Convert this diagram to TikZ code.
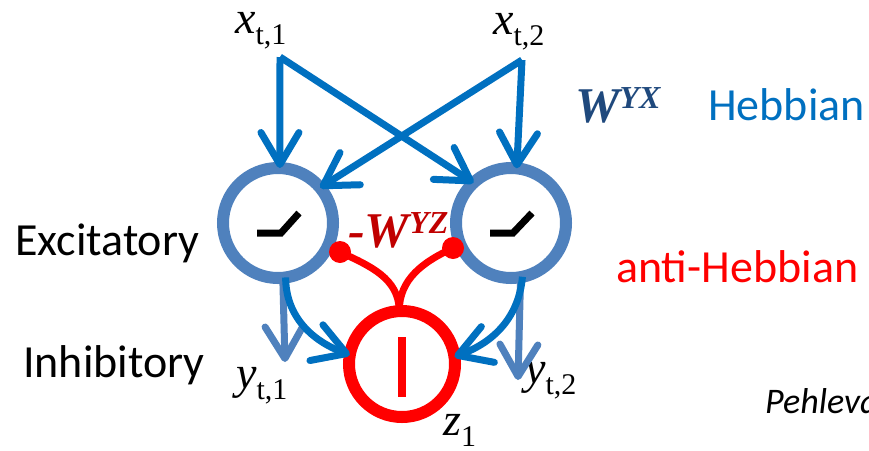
\documentclass[tikz,border=0pt]{standalone}
\usepackage{fontspec}
\setmainfont{Carlito}
\newfontfamily\tms{Liberation Serif}
\usetikzlibrary{arrows.meta}
\definecolor{ringblue}{RGB}{79,129,189}
\definecolor{arrblue}{RGB}{0,112,192}
\definecolor{wred}{RGB}{192,0,0}
\definecolor{wblue}{RGB}{31,73,125}
\newcommand\ivar[2]{{\tms\fontsize{46}{46}\selectfont\textit{#1}\raisebox{-11pt}{\fontsize{30}{30}\selectfont #2}}}
\newcommand\wlab[2]{{\tms\bfseries\itshape\fontsize{50}{50}\selectfont #1\raisebox{14pt}{\fontsize{32}{32}\selectfont #2}}}
\begin{document}
\begin{tikzpicture}[x=1pt,y=-1pt,
  exc/.style={circle,draw=ringblue,line width=12pt,minimum size=110pt,inner sep=0pt,outer sep=0pt,fill=white},
  inh/.style={circle,draw=red,line width=12pt,minimum size=106pt,inner sep=0pt,outer sep=0pt,fill=white},
  relu/.style={line width=7pt,black},
  barb/.style={-{Straight Barb[length=32pt,width=38pt,round]}},
  inarr/.style={arrblue,line width=7pt,barb},
  outarr/.style={ringblue,line width=7pt,barb},
  inhcon/.style={red,line width=7pt},
  dot/.style={circle,fill=red,minimum size=22pt,inner sep=0pt},
  lbl/.style={inner sep=0pt,anchor=base west},
  txt/.style={inner sep=0pt,anchor=base west,font=\fontsize{46}{46}\selectfont},
  ]
\useasboundingbox (0,0) rectangle (869,450);
\clip (0,0) rectangle (869,450);
\fill[white] (0,0) rectangle (869,450);
% neurons
\node[exc] (e1) at (278,223) {};
\node[exc] (e2) at (511,223) {};
\node[inh] (z) at (402,364) {};
\draw[relu, shift={(e1.center)}] (-21,10) -- (3,10) -- (21,-10);
\draw[relu, shift={(e2.center)}] (-21,10) -- (2,10) -- (21,-10);
\draw[red, line width=8pt, shift={(z.center)}] (0,-27) -- (0,33);
% labels
\node[lbl] (xt1) at (235,33) {\ivar{x}{t,1}};
\node[lbl] (xt2) at (493,34) {\ivar{x}{t,2}};
\node[lbl] (y1) at (236,388) {\ivar{y}{t,1}};
\node[lbl] (y2) at (525,383) {\ivar{y}{t,2}};
\node[lbl] (z1) at (443,435) {\ivar{z}{1}};
\node[lbl,text=wblue] (wyx) at (575,122) {\wlab{W}{YX}};
\node[lbl,text=wred] (wyz) at (348,247) {\wlab{-W}{YZ}};
\node[txt] (exct) at (15,255) {Excitatory};
\node[txt] (inht) at (23,377) {Inhibitory};
\node[txt,text=arrblue] (hebb) at (708,120) {Hebbian};
\node[txt,text=red] (ahebb) at (616,282) {anti-Hebbian};
\node[lbl,font=\fontsize{36}{36}\selectfont\itshape] (ref) at (765,413) {Pehlevan};
% coordinates
\coordinate (s1) at (280,57);
\coordinate (s2) at (522,60);
\coordinate (o1) at (285,362);
\coordinate (o2) at (518,380);
% output arrows
\draw[outarr] (e1.-85) -- (o1);
\draw[outarr] (e2.-80) -- (o2);
% excitatory to inhibitory
\draw[inarr] (e1.-82) to[out=-90,in=160] (z.170);
\draw[inarr] (e2.-78) to[out=-95,in=20] (z.8);
% inputs
\draw[inarr] (s1) -- (e2.133);
\draw[inarr] (s2) -- (e1.40);
\draw[inarr] (s1) -- (e1.88);
\draw[inarr] (s2) -- (e2.84);
% inhibitory feedback
\node[dot] (d1) at (340,252) {};
\node[dot] (d2) at (453,248) {};
\draw[inhcon] (z.93) to[out=90,in=-25] (d1.center);
\draw[inhcon] (z.93) to[out=90,in=205] (d2.center);
\end{tikzpicture}
\end{document}
